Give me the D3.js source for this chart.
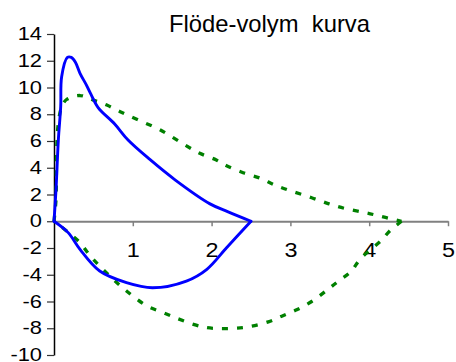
<!DOCTYPE html>
<html>
<head>
<meta charset="utf-8">
<script src="https://cdn.jsdelivr.net/npm/d3@7"></script>
<style>
  html, body { margin: 0; padding: 0; background: #fff; }
  svg { display: block; }
  text { font-family: "Liberation Sans", Arial, sans-serif; fill: #000; }
</style>
</head>
<body>
<svg id="chart" width="456" height="362"></svg>
<script>
// ---- data ----
const title = "Flöde-volym  kurva";
const xTicks = [1, 2, 3, 4, 5];
const yTicks = [-10, -8, -6, -4, -2, 0, 2, 4, 6, 8, 10, 12, 14];

// blue loop: upper (expiration) branch, then lower (inspiration) branch
const blueUpX = [0, 0.025, 0.055, 0.085, 0.097, 0.17, 0.22, 0.27, 0.33, 0.41, 0.46, 0.56, 0.77, 0.94, 1.22, 1.54, 1.98, 2.21, 2.5];
const blueUpY = [0, 2.3, 6.07, 8.56, 10.8, 12.25, 12.25, 11.9, 11.06, 10.2, 9.6, 8.5, 7.27, 6.07, 4.6, 3.08, 1.3, 0.7, 0];
const blueLoX = [2.5, 2.19, 1.94, 1.68, 1.25, 0.92, 0.58, 0.33, 0.18, 0];
const blueLoY = [0, -1.98, -3.59, -4.47, -4.97, -4.59, -3.72, -2.1, -0.85, 0];

// green loop: upper branch, then lower branch
const greenUpX = [0, 0.025, 0.034, 0.055, 0.098, 0.16, 0.33, 0.5, 0.67, 0.84, 1.05, 1.35, 1.64, 1.85, 2.06, 2.19, 2.4, 2.62, 2.8, 3.01, 3.27, 3.49, 3.68, 3.9, 4.07, 4.24, 4.41];
const greenUpY = [0, 1.6, 5.3, 7.34, 8.56, 9.1, 9.4, 9.06, 8.69, 8.19, 7.62, 6.82, 5.78, 5.08, 4.58, 4.15, 3.63, 3.21, 2.71, 2.26, 1.76, 1.3, 0.97, 0.7, 0.48, 0.23, 0];
const greenLoX = [4.41, 4.26, 4.15, 3.89, 3.77, 3.61, 3.46, 3.27, 3.08, 2.89, 2.72, 2.49, 2.3, 2.1, 1.94, 1.77, 1.56, 1.39, 1.18, 0.92, 0.75, 0.58, 0.46, 0.33, 0.16, 0];
const greenLoY = [0, -0.73, -1.45, -2.8, -3.75, -4.47, -5.17, -6.0, -6.62, -7.1, -7.52, -7.87, -8.0, -8.02, -7.96, -7.71, -7.26, -6.84, -6.34, -5.21, -4.34, -3.35, -2.6, -1.6, -0.73, 0];

// ---- chart ----
const svg = d3.select("#chart");
const x = d3.scaleLinear().domain([0, 5]).range([54, 448]);
const y = d3.scaleLinear().domain([-10, 14]).range([355, 34]);

// title
svg.append("text")
  .attr("x", 169).attr("y", 32)
  .attr("font-size", 24)
  .attr("textLength", 201)
  .attr("lengthAdjust", "spacingAndGlyphs")
  .style("white-space", "pre")
  .text(title);

// x axis (at y = 0)
const xAxis = svg.append("g")
  .attr("transform", `translate(0,${y(0)})`)
  .call(d3.axisBottom(x).tickValues(xTicks).tickSize(5).tickSizeOuter(0).tickPadding(17)
        .tickFormat(d3.format("d")));
xAxis.select(".domain").attr("stroke", "#808080").attr("stroke-width", 2);
xAxis.selectAll(".tick line").attr("stroke", "#808080").attr("stroke-width", 1.5);
xAxis.selectAll(".tick text")
  .attr("font-size", 19.5)
  .attr("font-family", "Liberation Sans, Arial, sans-serif")
  .attr("fill", "#000")
  .attr("transform", "scale(1.2,1)");

// y axis
const ySX = 1.25;
const yAxis = svg.append("g")
  .attr("transform", `translate(${x(0)},0)`)
  .call(d3.axisLeft(y).tickValues(yTicks).tickSize(7).tickSizeOuter(0).tickPadding(6)
        .tickFormat(d => d < 0 ? "-" + Math.abs(d) : String(d)));
yAxis.select(".domain").attr("stroke", "#000").attr("stroke-width", 1.5);
yAxis.selectAll(".tick line").attr("stroke", "#333").attr("stroke-width", 1.2);
yAxis.selectAll(".tick text")
  .attr("font-size", 17.5)
  .attr("font-family", "Liberation Sans, Arial, sans-serif")
  .attr("fill", "#000")
  .attr("x", -12 / ySX)
  .attr("transform", `scale(${ySX},1)`);

// lines
const line = d3.line().x(d => x(d[0])).y(d => y(d[1])).curve(d3.curveCatmullRom.alpha(0.5));

[[greenUpX, greenUpY], [greenLoX, greenLoY]].forEach(([xs, ys]) => {
  svg.append("path")
    .datum(d3.zip(xs, ys))
    .attr("fill", "none")
    .attr("stroke", "#008000")
    .attr("stroke-width", 3.3)
    .attr("stroke-dasharray", "6,9")
    .attr("d", line);
});

[[blueUpX, blueUpY], [blueLoX, blueLoY]].forEach(([xs, ys]) => {
  svg.append("path")
    .datum(d3.zip(xs, ys))
    .attr("fill", "none")
    .attr("stroke", "#0000ff")
    .attr("stroke-width", 2.9)
    .attr("stroke-linejoin", "round")
    .attr("stroke-linecap", "round")
    .attr("d", line);
});
</script>
</body>
</html>
